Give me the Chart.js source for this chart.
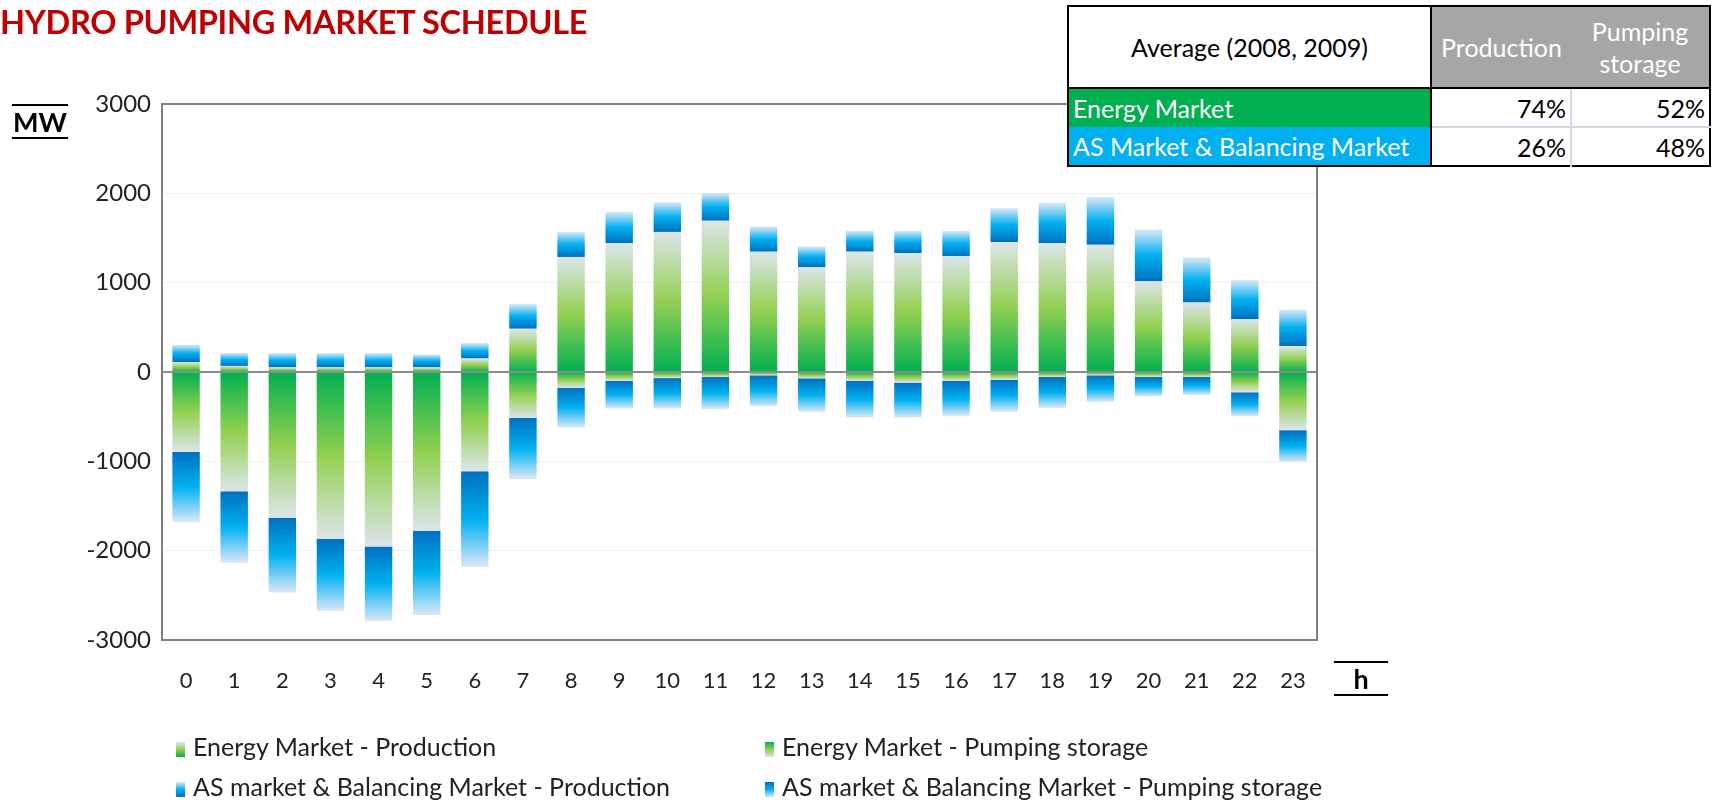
<!DOCTYPE html>
<html>
<head>
<meta charset="utf-8">
<script src="https://cdn.jsdelivr.net/npm/chart.js@4"></script>
<style>
  html, body { margin: 0; padding: 0; background: #fff; }
  #wrap { position: relative; width: 1721px; height: 804px; overflow: hidden; font-family: Lato, "Open Sans", sans-serif; }
  #chart { position: absolute; left: 0; top: 0; }
  .title { position: absolute; left: 0; top: 2px; font-size: 32.5px; font-weight: 700; color: #c00000; white-space: nowrap; letter-spacing: -0.3px; }
  .unit { position: absolute; font-weight: 700; font-size: 27px; color: #000; text-align: center; border-top: 2px solid #000; border-bottom: 2px solid #000; line-height: 31px; }
  table.avg { position: absolute; left: 1067px; top: 5px; border-collapse: collapse; border: 2px solid #000; font-size: 25px; background: #fff; }
  table.avg td { padding: 0 4px; white-space: nowrap; }
  .legend { position: absolute; font-size: 25px; color: #222; white-space: nowrap; }
  .legend i { display: inline-block; width: 9px; height: 15px; margin-right: 8px; vertical-align: -1px; }
</style>
</head>
<body>
<div id="wrap">
  <canvas id="chart" width="1721" height="804"></canvas>
  <div class="title">HYDRO PUMPING MARKET SCHEDULE</div>
  <div class="unit" style="left:12px; top:104px; width:56px;">MW</div>
  <div class="unit" style="left:1334px; top:661px; width:54px;">h</div>

  <table class="avg">
    <tr style="height:82px;">
      <td style="width:353px; text-align:center; border-right:2px solid #000; border-bottom:2px solid #000;">Average (2008, 2009)</td>
      <td style="width:131px; background:#a6a6a6; color:#fff; text-align:center; border-bottom:2px solid #000;">Production</td>
      <td style="width:130px; background:#a6a6a6; color:#fff; text-align:center; line-height:32px; border-bottom:2px solid #000;">Pumping<br>storage</td>
    </tr>
    <tr style="height:39px;">
      <td style="background:#00b050; color:#fff; border-right:2px solid #000;">Energy Market</td>
      <td id="c11" style="text-align:right; border-right:2px solid #d0d7e5; border-bottom:2px solid #d0d7e5;"></td>
      <td id="c12" style="text-align:right; border-bottom:2px solid #d0d7e5;"></td>
    </tr>
    <tr style="height:39px;">
      <td style="background:#00b0f0; color:#fff; border-right:2px solid #000;">AS Market &amp; Balancing Market</td>
      <td id="c21" style="text-align:right; border-right:2px solid #d0d7e5;"></td>
      <td id="c22" style="text-align:right;"></td>
    </tr>
  </table>

  <div class="legend" style="left:176px; top:731px;"><i style="background:linear-gradient(#dde5ea,#92d050,#00b050)"></i>Energy Market - Production</div>
  <div class="legend" style="left:765px; top:731px;"><i style="background:linear-gradient(#00b050,#92d050,#dde5ea)"></i>Energy Market - Pumping storage</div>
  <div class="legend" style="left:176px; top:771px;"><i style="background:linear-gradient(#dce9f7,#00b0f0,#0070c0)"></i>AS market &amp; Balancing Market - Production</div>
  <div class="legend" style="left:765px; top:771px;"><i style="background:linear-gradient(#0070c0,#00b0f0,#dce9f7)"></i>AS market &amp; Balancing Market - Pumping storage</div>
</div>

<script>
// hours of the day
const hours = ['0','1','2','3','4','5','6','7','8','9','10','11','12','13','14','15','16','17','18','19','20','21','22','23'];

// MW
const emProduction = [112, 68, 52, 52, 52, 52, 152, 484, 1288, 1444, 1568, 1693, 1347, 1172, 1347, 1332, 1295, 1455, 1440, 1425, 1016, 777, 591, 290];
const emPumping    = [-896, -1336, -1632, -1868, -1952, -1776, -1112, -512, -176, -100, -68, -56, -37, -71, -100, -119, -100, -86, -56, -37, -56, -56, -227, -651];
const asProduction = [192, 144, 160, 160, 160, 144, 172, 280, 280, 348, 332, 312, 282, 234, 234, 249, 286, 379, 457, 535, 580, 506, 439, 409];
const asPumping    = [-784, -800, -836, -808, -836, -944, -1072, -688, -444, -308, -340, -361, -346, -375, -410, -391, -395, -360, -346, -298, -216, -201, -268, -357];

const yTicks = [-3000, -2000, -1000, 0, 1000, 2000, 3000];

// average share table
const shareRows = ['Energy Market', 'AS Market & Balancing Market'];
const shareProduction = ['74%', '26%'];
const sharePumping = ['52%', '48%'];

document.getElementById('c11').textContent = shareProduction[0];
document.getElementById('c12').textContent = sharePumping[0];
document.getElementById('c21').textContent = shareProduction[1];
document.getElementById('c22').textContent = sharePumping[1];

const GREEN = ['#00b050', '#92d050', '#dde5ea'];
const BLUE = ['#0070c0', '#00b0f0', '#dce9f7'];

// value range (base -> tip) of each segment, so the gradient runs from the base out
function segRange(ds, i) {
  if (ds === 0) return [0, emProduction[i]];
  if (ds === 1) return [0, emPumping[i]];
  if (ds === 2) return [emProduction[i], emProduction[i] + asProduction[i]];
  return [emPumping[i], emPumping[i] + asPumping[i]];
}

function barFill(stops) {
  return function (ctx) {
    const chart = ctx.chart;
    const ys = chart.scales.y;
    if (!ys || !chart.chartArea || ctx.dataIndex === undefined) return stops[1];
    const r = segRange(ctx.datasetIndex, ctx.dataIndex);
    const p0 = ys.getPixelForValue(r[0]);
    const p1 = ys.getPixelForValue(r[1]);
    if (!isFinite(p0) || !isFinite(p1) || p0 === p1) return stops[0];
    const g = chart.ctx.createLinearGradient(0, p0, 0, p1);
    g.addColorStop(0, stops[0]);
    g.addColorStop(0.5, stops[1]);
    g.addColorStop(1, stops[2]);
    return g;
  };
}

const frame = {
  id: 'frame',
  afterDraw(chart) {
    const a = chart.chartArea, c = chart.ctx;
    c.save();
    c.strokeStyle = '#7f7f7f';
    c.lineWidth = 2;
    c.strokeRect(a.left, a.top, a.right - a.left, a.bottom - a.top);
    c.restore();
  }
};

new Chart(document.getElementById('chart'), {
  type: 'bar',
  data: {
    labels: hours,
    datasets: [
      { label: 'Energy Market - Production', data: emProduction, backgroundColor: barFill(GREEN) },
      { label: 'Energy Market - Pumping storage', data: emPumping, backgroundColor: barFill(GREEN) },
      { label: 'AS market & Balancing Market - Production', data: asProduction, backgroundColor: barFill(BLUE) },
      { label: 'AS market & Balancing Market - Pumping storage', data: asPumping, backgroundColor: barFill(BLUE) }
    ]
  },
  options: {
    responsive: false,
    animation: false,
    layout: { padding: { left: 0, right: 404, top: 104, bottom: 0 } },
    datasets: { bar: { categoryPercentage: 1, barPercentage: 0.57, borderWidth: 0 } },
    plugins: { legend: { display: false }, tooltip: { enabled: false } },
    scales: {
      x: {
        stacked: true,
        grid: { display: false, drawTicks: false },
        border: { display: false },
        ticks: { color: '#222', font: { family: 'Lato', size: 22 }, padding: 28, maxRotation: 0 },
        afterFit(s) { s.height = 164; }
      },
      y: {
        stacked: true,
        min: yTicks[0],
        max: yTicks[yTicks.length - 1],
        afterBuildTicks(s) { s.ticks = yTicks.map(v => ({ value: v })); },
        grid: {
          drawTicks: false,
          color: c => c.tick.value === 0 ? '#8c8c8c' : (Math.abs(c.tick.value) === 3000 ? 'rgba(0,0,0,0)' : '#efefef'),
          lineWidth: c => c.tick.value === 0 ? 2 : 1
        },
        border: { display: false },
        ticks: { color: '#222', font: { family: 'Lato', size: 24 }, padding: 11, callback: v => String(v) },
        afterFit(s) { s.width = 162; }
      }
    }
  },
  plugins: [frame]
});
</script>
</body>
</html>
